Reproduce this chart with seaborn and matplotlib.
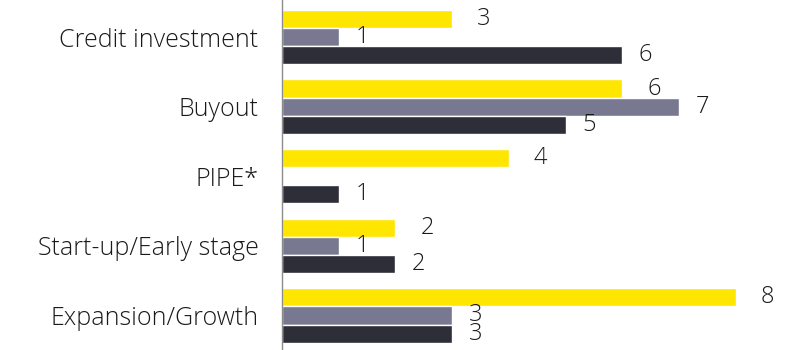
import matplotlib
matplotlib.use("Agg")
import matplotlib.pyplot as plt
import seaborn as sns
import pandas as pd

categories = ["Credit investment", "Buyout", "PIPE*", "Start-up/Early stage", "Expansion/Growth"]
series_names = ["Series 1", "Series 2", "Series 3"]
series1 = [3, 6, 4, 2, 8]
series2 = [1, 7, 0, 1, 3]
series3 = [6, 5, 1, 2, 3]
colors = ["#FFE600", "#787890", "#2E2E38"]

rows = []
for name, vals in zip(series_names, [series1, series2, series3]):
    for c, v in zip(categories, vals):
        rows.append({"category": c, "series": name, "value": v})
df = pd.DataFrame(rows)

sns.set_theme(style="white")
plt.rcParams["font.family"] = ["Open Sans", "DejaVu Sans"]

fig = plt.figure(figsize=(7.89, 3.5), dpi=100)
ax = fig.add_axes([282 / 789, 0, 507 / 789, 1])
sns.barplot(data=df, y="category", x="value", hue="series", order=categories,
            hue_order=series_names, palette=colors, orient="h", width=0.78,
            legend=False, ax=ax, saturation=1)

ax.set_xlim(0, 507 / 56.7)
ax.set_ylim(4.496, -0.532)
ax.set_xlabel("")
ax.set_ylabel("")
ax.set_xticks([])
for s in ["top", "right", "bottom"]:
    ax.spines[s].set_visible(False)
ax.spines["left"].set_color("#8c8c8c")
ax.spines["left"].set_linewidth(1.0)
ax.tick_params(axis="y", length=0, pad=17, labelsize=18, labelcolor="#1a1a1a")
for t in ax.get_yticklabels():
    t.set_fontweight("light")

pads = [18, 12, 12]
for cont, vals, pad in zip(ax.containers, [series1, series2, series3], pads):
    labels = [str(v) if v != 0 else "" for v in vals]
    ax.bar_label(cont, labels=labels, padding=pad, fontsize=17, color="#1a1a1a",
                 fontweight="light")

fig.savefig("out.png", dpi=100)
